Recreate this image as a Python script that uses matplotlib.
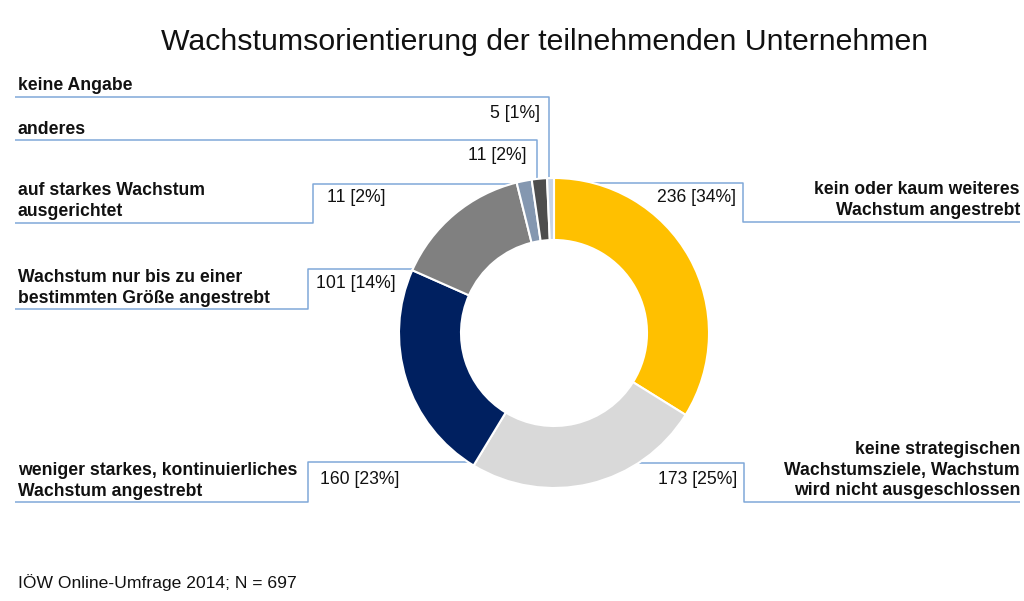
import matplotlib
matplotlib.use("Agg")
import matplotlib.pyplot as plt
import numpy as np

plt.rcParams['font.family'] = ['Liberation Sans', 'DejaVu Sans']

# ---- data ----
categories = [
    "kein oder kaum weiteres\nWachstum angestrebt",
    "keine strategischen\nWachstumsziele, Wachstum\nwird nicht ausgeschlossen",
    "weniger starkes, kontinuierliches\nWachstum angestrebt",
    "Wachstum nur bis zu einer\nbestimmten Größe angestrebt",
    "auf starkes Wachstum\nausgerichtet",
    "anderes",
    "keine Angabe",
]
counts = [236, 173, 160, 101, 11, 11, 5]
percents = [34, 25, 23, 14, 2, 2, 1]
colors = ["#FFC000", "#D9D9D9", "#002060", "#808080", "#8497B0", "#4D4D4D", "#C8D4E6"]
title = "Wachstumsorientierung der teilnehmenden Unternehmen"
footer = "IÖW Online-Umfrage 2014; N = 697"

W, H = 1024, 601
fig = plt.figure(figsize=(W / 100, H / 100), dpi=100)
ax = fig.add_axes([0, 0, 1, 1])

def Y(y):
    return H - y

cx, cy, R, ring = 554, 333, 155, 62

ax.pie(counts, colors=colors, startangle=90, counterclock=False,
       center=(cx, Y(cy)), radius=R,
       wedgeprops=dict(width=ring, edgecolor="white", linewidth=1.5),
       frame=False)
for p in ax.patches:
    p.set_zorder(3)

ax.set_xlim(0, W)
ax.set_ylim(0, H)
ax.set_aspect('auto')
ax.axis('off')

LC = "#80A8D8"
LW = 1.1

def circle_x(y, side):
    dy = y - cy
    dx = np.sqrt(max(R**2 - dy**2, 0))
    return cx - dx + 4 if side == 'L' else cx + dx - 4

def circle_y(x):
    dx = x - cx
    return cy - np.sqrt(R**2 - dx**2) + 4

def line(pts):
    xs = [p[0] for p in pts]
    ys = [Y(p[1]) for p in pts]
    ax.plot(xs, ys, color=LC, lw=LW, zorder=1, solid_capstyle='butt')

# leader lines / label boxes (layout in pixels)
line([(15, 97), (549, 97), (549, circle_y(549))])
line([(15, 140), (537, 140), (537, circle_y(537))])
line([(15, 223), (313, 223), (313, 184), (circle_x(184, 'L'), 184)])
line([(15, 309), (308, 309), (308, 269), (circle_x(269, 'L'), 269)])
line([(15, 502), (308, 502), (308, 462), (circle_x(462, 'L'), 462)])
line([(1020, 502), (744, 502), (744, 463), (circle_x(463, 'R'), 463)])
line([(1020, 222), (743, 222), (743, 183), (circle_x(183, 'R'), 183)])

FS = 12.7
def vlabel(i):
    return f"{counts[i]} [{percents[i]}%]"

cat_pos = [
    (1020, 200, 'right'),
    (1020, 470, 'right'),
    (18, 481, 'left'),
    (18, 288, 'left'),
    (18, 201, 'left'),
    (18, 130, 'left'),
    (18, 86, 'left'),
]
for i, (x, y, ha) in enumerate(cat_pos):
    ax.text(x, Y(y), categories[i], ha=ha, va='center', fontsize=FS,
            fontweight='bold', multialignment=ha, linespacing=1.3, color="#111111")

val_pos = [
    (657, 198, 'left'),
    (737, 479, 'right'),
    (320, 480, 'left'),
    (316, 283, 'left'),
    (327, 198, 'left'),
    (527, 155, 'right'),
    (540, 114, 'right'),
]
for i, (x, y, ha) in enumerate(val_pos):
    ax.text(x, Y(y), vlabel(i), ha=ha, va='center', fontsize=FS, color="#111111")

ax.text(545, Y(42), title, ha='center', va='center', fontsize=21.8, color="#111111")
ax.text(18, Y(583), footer, ha='left', va='center', fontsize=12.6, color="#111111")

fig.savefig("out.png", dpi=100)
